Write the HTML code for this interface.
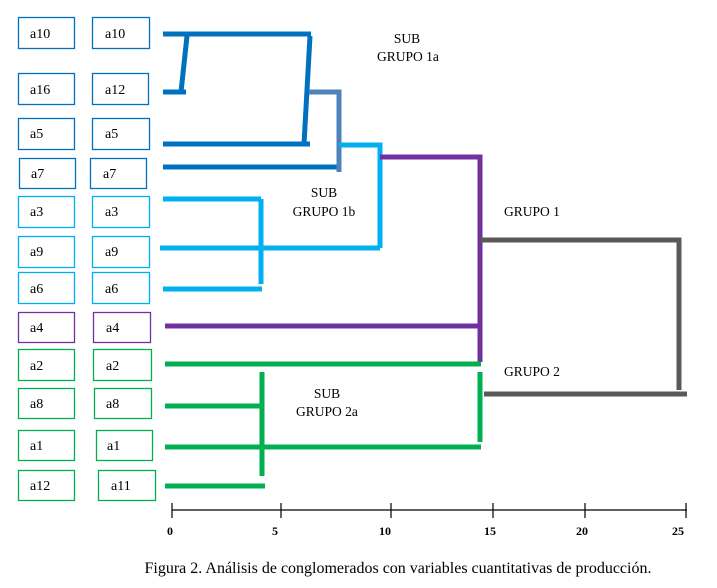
<!DOCTYPE html>
<html><head><meta charset="utf-8"><style>
body{margin:0;background:#fff;}
svg{display:block;font-family:"Liberation Serif",serif;}
</style></head><body>
<svg width="717" height="588" viewBox="0 0 717 588" xmlns="http://www.w3.org/2000/svg">
<g fill="none" stroke-width="1.3">
<g stroke="#0070c0">
<rect x="18.5" y="17.5" width="56" height="31"/><rect x="92.5" y="17.5" width="57" height="31"/>
<rect x="18.5" y="73.5" width="56" height="31"/><rect x="92.5" y="73.5" width="56" height="31"/>
<rect x="18.5" y="118.5" width="56" height="31"/><rect x="92.5" y="118.5" width="57" height="31"/>
<rect x="19.5" y="158.5" width="56" height="30"/><rect x="90.5" y="158.5" width="56" height="30"/>
</g>
<g stroke="#00b0f0">
<rect x="18.5" y="196.5" width="56" height="31"/><rect x="92.5" y="196.5" width="57" height="31"/>
<rect x="18.5" y="236.5" width="56" height="31"/><rect x="92.5" y="236.5" width="57" height="31"/>
<rect x="18.5" y="272.5" width="56" height="31"/><rect x="92.5" y="272.5" width="57" height="31"/>
</g>
<g stroke="#7030a0">
<rect x="18.5" y="312.5" width="56" height="30"/><rect x="93.5" y="312.5" width="57" height="30"/>
</g>
<g stroke="#00b050">
<rect x="18.5" y="349.5" width="56" height="31"/><rect x="93.5" y="349.5" width="58" height="31"/>
<rect x="18.5" y="388.5" width="56" height="30"/><rect x="94.5" y="388.5" width="57" height="30"/>
<rect x="18.5" y="430.5" width="56" height="30"/><rect x="96.5" y="430.5" width="56" height="30"/>
<rect x="18.5" y="470.5" width="56" height="30"/><rect x="98.5" y="470.5" width="57" height="30"/>
</g>
</g>
<g font-size="14" fill="#000">
<text x="30" y="38">a10</text><text x="105" y="38">a10</text>
<text x="30" y="94">a16</text><text x="105" y="94">a12</text>
<text x="30" y="138">a5</text><text x="105" y="138">a5</text>
<text x="31" y="178">a7</text><text x="103" y="178">a7</text>
<text x="30" y="216">a3</text><text x="105" y="216">a3</text>
<text x="30" y="256">a9</text><text x="105" y="256">a9</text>
<text x="30" y="293">a6</text><text x="105" y="293">a6</text>
<text x="30" y="332">a4</text><text x="106" y="332">a4</text>
<text x="30" y="370">a2</text><text x="106" y="370">a2</text>
<text x="30" y="408">a8</text><text x="106" y="408">a8</text>
<text x="30" y="450">a1</text><text x="107" y="450">a1</text>
<text x="30" y="490">a12</text><text x="111" y="490">a11</text>
</g>
<g stroke-width="5" fill="none">
<g stroke="#0070c0">
<line x1="163" y1="34" x2="311" y2="34"/>
<line x1="163" y1="92" x2="186" y2="92"/>
<line x1="187" y1="36" x2="181" y2="92"/>
<line x1="163" y1="144" x2="310" y2="144"/>
<line x1="310" y1="36" x2="304" y2="144"/>
<line x1="163" y1="167" x2="337" y2="167"/>
</g>
<polyline stroke="#4f81bd" points="309,92 339,92 339,172"/>
<g stroke="#00b0f0">
<polyline points="339,145 380,145 380,248"/>
<line x1="160" y1="248" x2="380" y2="248"/>
<polyline points="163,199 261,199"/>
<line x1="261" y1="199" x2="261" y2="284"/>
<line x1="163" y1="289" x2="262" y2="289"/>
</g>
<g stroke="#7030a0">
<polyline points="380,157 480,157 480,362"/>
<line x1="165" y1="326" x2="480" y2="326"/>
</g>
<g stroke="#00b050">
<line x1="165" y1="364" x2="481" y2="364"/>
<line x1="480" y1="372" x2="480" y2="442"/>
<line x1="165" y1="447" x2="481" y2="447"/>
<line x1="262" y1="372" x2="262" y2="476"/>
<line x1="165" y1="406" x2="262" y2="406"/>
<line x1="165" y1="486" x2="265" y2="486"/>
</g>
<polyline stroke="#595959" points="480,240 679,240 679,390"/>
<line stroke="#595959" x1="484" y1="394" x2="687" y2="394"/>
</g>
<g stroke="#000" stroke-width="1.2">
<line x1="172" y1="510" x2="687" y2="510"/>
<line x1="172" y1="503" x2="172" y2="518"/>
<line x1="281" y1="503" x2="281" y2="518"/>
<line x1="391" y1="503" x2="391" y2="518"/>
<line x1="493" y1="503" x2="493" y2="518"/>
<line x1="585" y1="503" x2="585" y2="518"/>
<line x1="686" y1="503" x2="686" y2="518"/>
</g>
<g font-size="12" font-weight="bold" text-anchor="middle">
<text x="170" y="535">0</text><text x="275" y="535">5</text><text x="385" y="535">10</text>
<text x="490" y="535">15</text><text x="582" y="535">20</text><text x="678" y="535">25</text>
</g>
<g font-size="13.5" text-anchor="middle">
<text x="407" y="43">SUB</text><text x="408" y="61">GRUPO  1a</text>
<text x="324" y="197">SUB</text><text x="324" y="216">GRUPO  1b</text>
<text x="532" y="216">GRUPO  1</text>
<text x="532" y="376">GRUPO  2</text>
<text x="327" y="398">SUB</text><text x="327" y="416">GRUPO  2a</text>
</g>
<text x="398" y="573" font-size="16" text-anchor="middle">Figura 2. Análisis  de conglomerados  con variables cuantitativas  de producción.</text>
</svg>
</body></html>
